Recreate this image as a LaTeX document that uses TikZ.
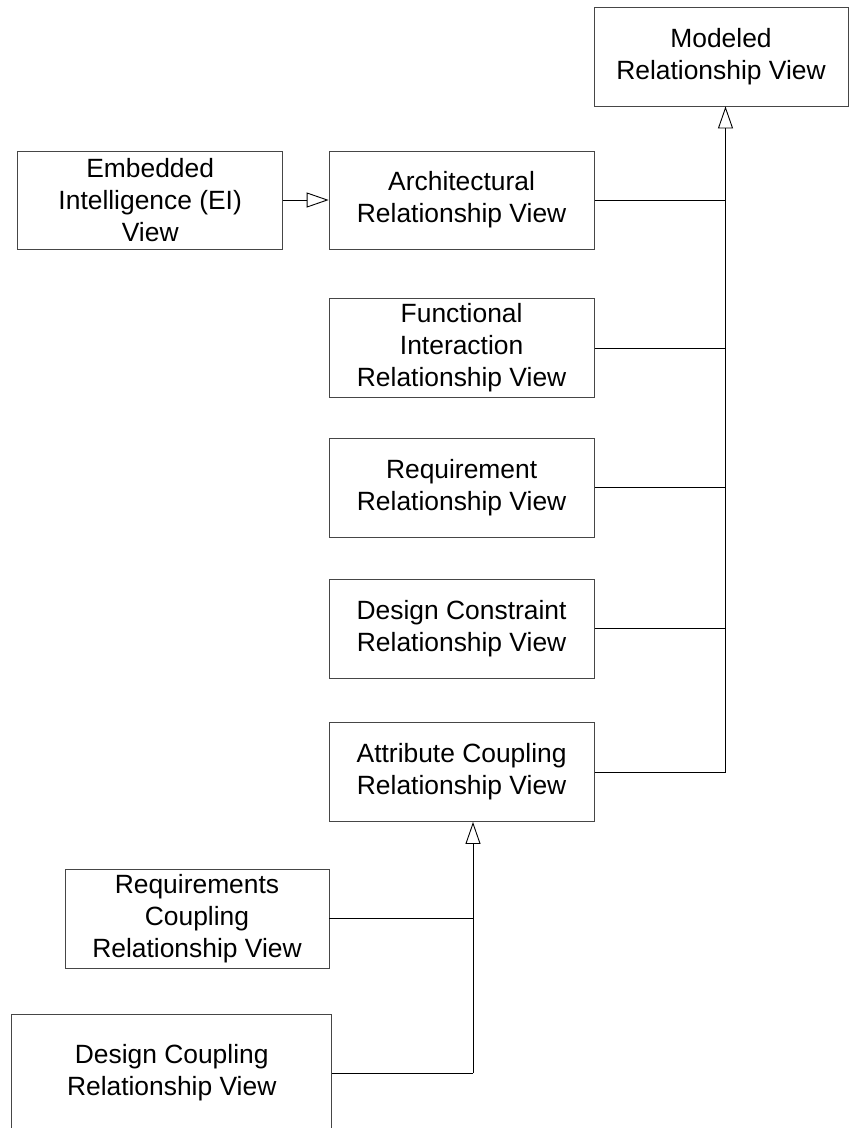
\documentclass[tikz,border=0pt]{standalone}
\usepackage{fontspec}
\setmainfont{Liberation Sans}
\usetikzlibrary{arrows.meta}
\definecolor{boxline}{RGB}{70,70,70}
\begin{document}
\begin{tikzpicture}[x=1pt,y=1pt,
  view/.style={draw=boxline, line width=0.9pt, fill=white, align=center,
    inner sep=0pt, font=\fontsize{26.4}{32}\selectfont},
  link/.style={draw=black, line width=0.9pt},
  trunk/.style={draw=black, line width=1.4pt},
  gen/.style={-{Triangle[open, length=22pt, width=15pt, line width=0.9pt]}}]
\useasboundingbox (0,0) rectangle (849,-1128);

% views
\node[view, minimum width=254pt, minimum height=99pt] (model) at (721,-56.5) {Modeled\\Relationship View};
\node[view, minimum width=265pt, minimum height=98pt] (ei) at (150.2,-200) {Embedded\\Intelligence (EI)\\View};
\node[view, minimum width=265pt, minimum height=98pt] (arch) at (461.6,-200) {Architectural\\Relationship View};
\node[view, minimum width=265pt, minimum height=99pt] (func) at (461.6,-348) {Functional\\Interaction\\Relationship View};
\node[view, minimum width=265pt, minimum height=99pt] (req) at (461.6,-487.5) {Requirement\\Relationship View};
\node[view, minimum width=265pt, minimum height=99pt] (dc) at (461.6,-628.5) {Design Constraint\\Relationship View};
\node[view, minimum width=265pt, minimum height=99pt] (attr) at (461.6,-772) {Attribute Coupling\\Relationship View};
\node[view, minimum width=264pt, minimum height=99pt] (rc) at (197,-918.5) {Requirements\\Coupling\\Relationship View};
\node[view, minimum width=320pt, minimum height=118pt] (dcp) at (171.7,-1073) {Design Coupling\\Relationship View};

% junction points of the two generalization trees
\coordinate (j1) at (725.5,-772);
\coordinate (j2) at (473,-1073);

% EI view specializes the architectural view
\draw[link, gen] (ei.east) -- (arch.west);

% generalizations to the modeled view
\draw[link] (attr.east) -- (j1);
\draw[trunk, gen] (j1) -- (j1 |- model.south);
\draw[link] (arch.east) -- (arch.east -| j1);
\draw[link] (func.east) -- (func.east -| j1);
\draw[link] (req.east) -- (req.east -| j1);
\draw[link] (dc.east) -- (dc.east -| j1);

% generalizations to the attribute coupling view
\draw[link] (dcp.east) -- (j2);
\draw[link, gen] (j2) -- (j2 |- attr.south);
\draw[link] (rc.east) -- (rc.east -| j2);
\end{tikzpicture}
\end{document}
